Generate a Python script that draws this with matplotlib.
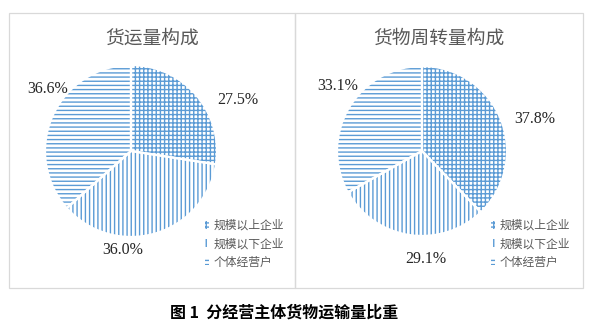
import matplotlib.pyplot as plt
from matplotlib.patches import Rectangle

plt.rcParams['font.family'] = ['Noto Sans CJK SC', 'DejaVu Sans']
plt.rcParams['hatch.linewidth'] = 1.0
plt.rcParams['hatch.color'] = '#5B9BD5'

# data
categories = ['规模以上企业', '规模以下企业', '个体经营户']
volume = [27.5, 36.0, 36.6]
turnover = [37.8, 29.1, 33.1]
titles = ['货运量构成', '货物周转量构成']
caption = '图 1  分经营主体货物运输量比重'

hatches = ['++++', '||||', '----']
blue = '#5B9BD5'
W, H = 594, 332

fig = plt.figure(figsize=(W / 100, H / 100), dpi=100)

# panel frames (pixels: x0, x1)
panels = [(9, 295), (295, 583)]
for x0, x1 in panels:
    fig.patches.append(Rectangle((x0 / W, 1 - 288 / H), (x1 - x0) / W, 275 / H,
                                 transform=fig.transFigure, fill=False,
                                 edgecolor='#D9D9D9', linewidth=0.9))

# pie centers / radius in pixels, label positions relative to center in radii
pies = [(131, 151, 86), (422, 151, 85)]
label_pos = [
    [(1.24, 0.59), (-0.10, -1.15), (-0.97, 0.72)],
    [(1.33, 0.38), (0.04, -1.27), (-0.99, 0.76)],
]
legend_x = [205, 491]


def draw_pie(i, values):
    cx, cy, r = pies[i]
    ax = fig.add_axes([(cx - r) / W, 1 - (cy + r) / H, 2 * r / W, 2 * r / H])
    ax.set_xlim(-1, 1)
    ax.set_ylim(-1, 1)
    ax.set_aspect('equal')
    ax.axis('off')
    wedges, _ = ax.pie(values, startangle=90, counterclock=False, radius=1,
                       colors=['white'] * 3,
                       wedgeprops=dict(edgecolor=blue, linewidth=0))
    for w, h in zip(wedges, hatches):
        w.set_hatch(h)
    ax.pie(values, startangle=90, counterclock=False, radius=1,
           colors=['none'] * 3,
           wedgeprops=dict(edgecolor='white', linewidth=1.6))
    ax.set_xlim(-1, 1)
    ax.set_ylim(-1, 1)
    for v, (lx, ly) in zip(values, label_pos[i]):
        ax.text(lx, ly, '%.1f%%' % v, ha='center', va='center',
                fontsize=11.5, family='Liberation Serif', color='#262626',
                clip_on=False)
    x0, x1 = panels[i]
    fig.text((x0 + x1) / 2 / W, 1 - 38 / H, titles[i], ha='center', va='center',
             fontsize=13.5, color='#595959')
    leg = fig.legend(wedges, categories, loc='upper left',
                     bbox_to_anchor=(legend_x[i] / W, 1 - 219 / H),
                     frameon=False, fontsize=8.5, handlelength=0.35,
                     handleheight=0.6, handletextpad=0.35, labelspacing=0.45,
                     borderpad=0, borderaxespad=0)
    for t in leg.get_texts():
        t.set_color('#595959')


draw_pie(0, volume)
draw_pie(1, turnover)

fig.text(284 / W, 1 - 313 / H, caption, ha='center', va='center',
         fontsize=11.5, fontweight='bold', color='black')

fig.savefig('out.png', dpi=100)
